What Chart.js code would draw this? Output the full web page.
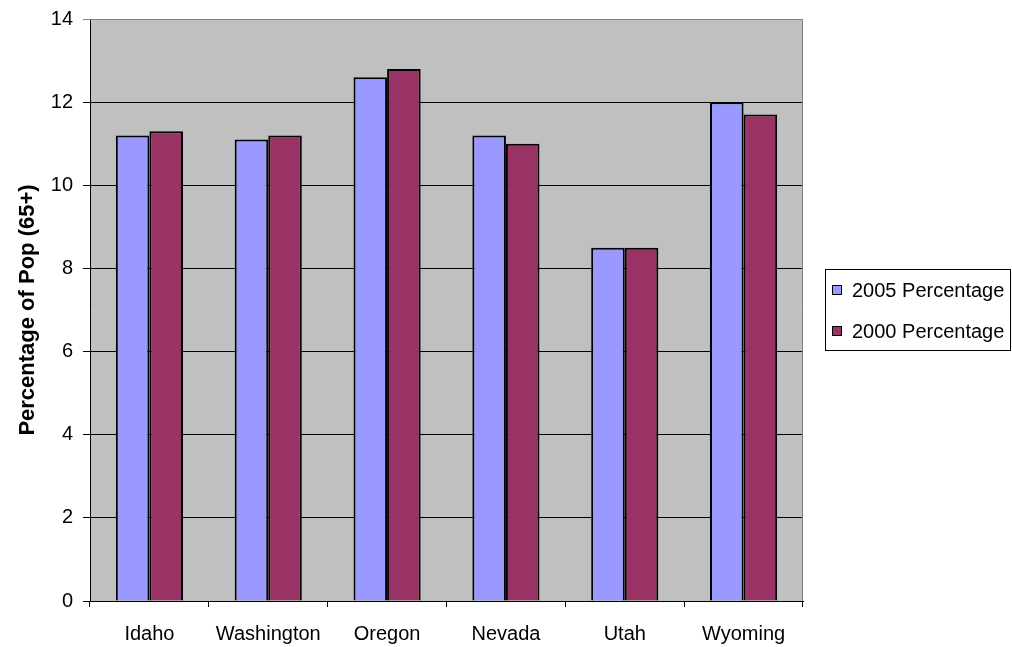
<!DOCTYPE html>
<html>
<head>
<meta charset="utf-8">
<script src="https://cdn.jsdelivr.net/npm/chart.js@4.4.1/dist/chart.umd.min.js"></script>
<style>
  html, body { margin: 0; padding: 0; background: #fff; }
  #chart { display: block; }
</style>
</head>
<body>
<canvas id="chart" width="1012" height="647"></canvas>
<script>
const states = ['Idaho', 'Washington', 'Oregon', 'Nevada', 'Utah', 'Wyoming'];
const pct2005 = [11.2, 11.1, 12.6, 11.2, 8.5, 12.0];
const pct2000 = [11.3, 11.2, 12.8, 11.0, 8.5, 11.7];
const seriesNames = ['2005 Percentage', '2000 Percentage'];
const seriesColors = ['#9999FF', '#993366'];
const yTitle = 'Percentage of Pop (65+)';

const FONT = '"Liberation Sans", Arial, sans-serif';

// grey plot area + grey frame on top/right
const plotBox = {
    id: 'plotBox',
    beforeDraw(chart) {
        const {ctx, chartArea: a} = chart;
        ctx.save();
        ctx.fillStyle = '#C0C0C0';
        ctx.fillRect(a.left, a.top, a.right - a.left, a.bottom - a.top);
        ctx.restore();
    },
    afterDatasetsDraw(chart) {
        const {ctx, chartArea: a} = chart;
        ctx.save();
        ctx.strokeStyle = '#808080';
        ctx.lineWidth = 1;
        ctx.beginPath();
        ctx.moveTo(a.left, a.top + 0.5);
        ctx.lineTo(a.right - 0.5, a.top + 0.5);
        ctx.lineTo(a.right - 0.5, a.bottom);
        ctx.stroke();
        ctx.restore();
    }
};

// boxed legend to the right of the plot
const boxLegend = {
    id: 'boxLegend',
    afterDraw(chart) {
        const ctx = chart.ctx;
        ctx.save();
        ctx.strokeStyle = '#000';
        ctx.lineWidth = 1;
        ctx.strokeRect(825.5, 269.5, 185, 81);
        ctx.font = '20px ' + FONT;
        ctx.textBaseline = 'middle';
        chart.data.datasets.forEach((ds, i) => {
            const y = 290 + i * 41;
            ctx.fillStyle = ds.backgroundColor;
            ctx.fillRect(832, y - 5, 10, 10);
            ctx.strokeRect(832.5, y - 4.5, 9, 9);
            ctx.fillStyle = '#000';
            ctx.fillText(ds.label, 852, y + 1);
        });
        ctx.restore();
    }
};

new Chart(document.getElementById('chart'), {
    type: 'bar',
    data: {
        labels: states,
        datasets: [
            {label: seriesNames[0], data: pct2005, backgroundColor: seriesColors[0]},
            {label: seriesNames[1], data: pct2000, backgroundColor: seriesColors[1]}
        ]
    },
    options: {
        responsive: false,
        animation: false,
        layout: {padding: {top: 19, right: 209, bottom: 0, left: 0}},
        datasets: {
            bar: {
                borderColor: '#000',
                borderWidth: 2,
                categoryPercentage: 0.565,
                barPercentage: 1
            }
        },
        plugins: {
            legend: {display: false},
            tooltip: {enabled: false}
        },
        scales: {
            x: {
                afterFit: s => { s.height = 46; },
                grid: {
                    drawOnChartArea: false,
                    color: '#000',
                    tickLength: 6
                },
                border: {color: '#000'},
                ticks: {
                    color: '#000',
                    padding: 15,
                    font: {family: FONT, size: 20}
                }
            },
            y: {
                min: 0,
                max: 14,
                afterFit: s => {
                    s.width = 90;
                    s.paddingTop = 0;
                    s.paddingBottom = 0;
                },
                grid: {
                    color: ctx => ctx.tick && ctx.tick.value === 14 ? '#808080' : '#000',
                    tickLength: 7
                },
                border: {color: '#000'},
                ticks: {
                    stepSize: 2,
                    color: '#000',
                    padding: 10,
                    font: {family: FONT, size: 20}
                },
                title: {
                    display: true,
                    text: yTitle,
                    color: '#000',
                    padding: {top: 17, bottom: 0},
                    font: {family: FONT, size: 22, weight: 'bold', lineHeight: 1}
                }
            }
        }
    },
    plugins: [plotBox, boxLegend]
});
</script>
</body>
</html>
